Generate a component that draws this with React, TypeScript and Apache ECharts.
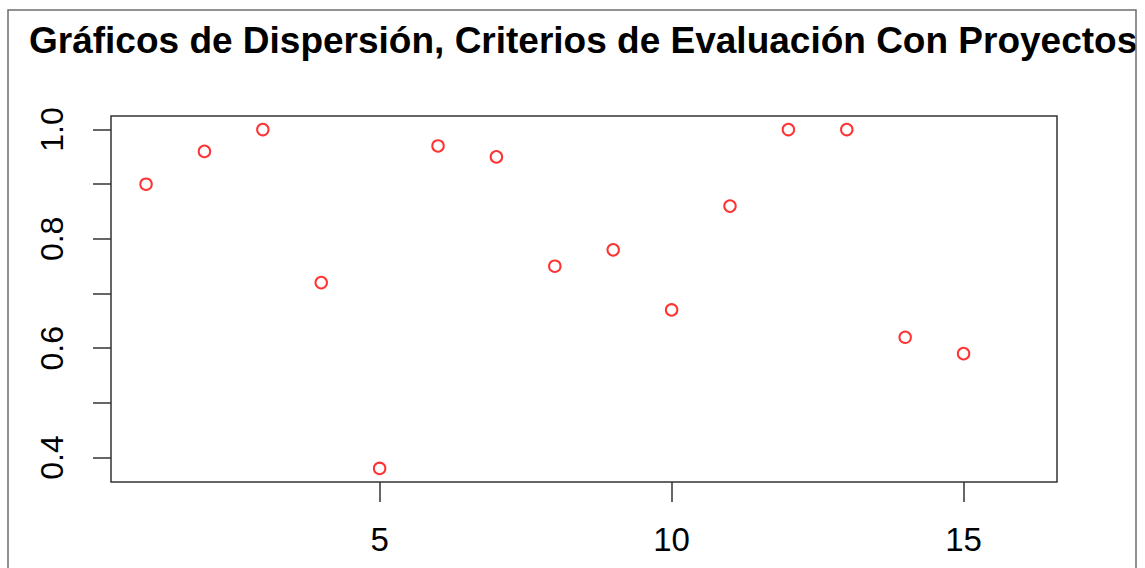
import React, { useEffect, useRef } from "react";
import * as echarts from "echarts";

const titleText = "Gráficos de Dispersión, Criterios de Evaluación Con Proyectos";
const xValues = [1, 2, 3, 4, 5, 6, 7, 8, 9, 10, 11, 12, 13, 14, 15];
const yValues = [0.9, 0.96, 1.0, 0.72, 0.38, 0.97, 0.95, 0.75, 0.78, 0.67, 0.86, 1.0, 1.0, 0.62, 0.59];
const xTicks = [5, 10, 15];
const yTicks = [0.4, 0.5, 0.6, 0.7, 0.8, 0.9, 1.0];
const yLabels = [0.4, 0.6, 0.8, 1.0];

export default function App() {
  const ref = useRef<HTMLDivElement>(null);
  useEffect(() => {
    const chart = echarts.init(ref.current!, null, { renderer: "svg" });
    const font = "Liberation Sans, Arial, sans-serif";
    chart.setOption({
      animation: false,
      backgroundColor: "#ffffff",
      grid: {
        left: 111,
        top: 116,
        right: 88,
        bottom: 86,
        show: true,
        borderColor: "#333333",
        borderWidth: 1.5,
        backgroundColor: "transparent",
      },
      xAxis: {
        type: "value",
        min: 0.4,
        max: 16.6,
        splitLine: { show: false },
        axisLine: { show: false },
        axisTick: {
          show: true,
          length: 20,
          customValues: xTicks,
          lineStyle: { color: "#333333", width: 1.5 },
        },
        axisLabel: {
          show: true,
          customValues: xTicks,
          margin: 41,
          fontSize: 33,
          fontFamily: font,
          color: "#000000",
        },
      },
      yAxis: {
        type: "value",
        min: 0.3552,
        max: 1.0248,
        splitLine: { show: false },
        axisLine: { show: false },
        axisTick: {
          show: true,
          length: 18,
          customValues: yTicks,
          lineStyle: { color: "#333333", width: 1.5 },
        },
        axisLabel: {
          show: true,
          customValues: yLabels,
          rotate: 90,
          margin: 43,
          fontSize: 32,
          fontFamily: font,
          color: "#000000",
          formatter: (v: number) => v.toFixed(1),
        },
      },
      series: [
        {
          type: "scatter",
          data: xValues.map((x, i) => [x, yValues[i]]),
          symbol: "circle",
          symbolSize: 11.5,
          itemStyle: { color: "rgba(0,0,0,0)", borderColor: "#ff0000", borderWidth: 2 },
        },
      ],
      graphic: [
        {
          type: "text",
          x: 29,
          y: 40,
          z: 10,
          style: {
            text: titleText,
            font: "bold 37px Liberation Sans, Arial, sans-serif",
            fill: "#000000",
            verticalAlign: "middle",
            align: "left",
          },
        },
        {
          type: "rect",
          z: 20,
          shape: { x: 1136, y: 0, width: 20, height: 568 },
          style: { fill: "#ffffff" },
        },
        {
          type: "rect",
          z: 30,
          shape: { x: 8, y: 10, width: 1128, height: 600 },
          style: { fill: "none", stroke: "#6e6e6e", lineWidth: 1.5 },
        },
      ],
    });
    return () => chart.dispose();
  }, []);
  return (
    <div
      ref={ref}
      style={{ position: "fixed", left: 0, top: 0, width: 1145, height: 568 }}
    />
  );
}
